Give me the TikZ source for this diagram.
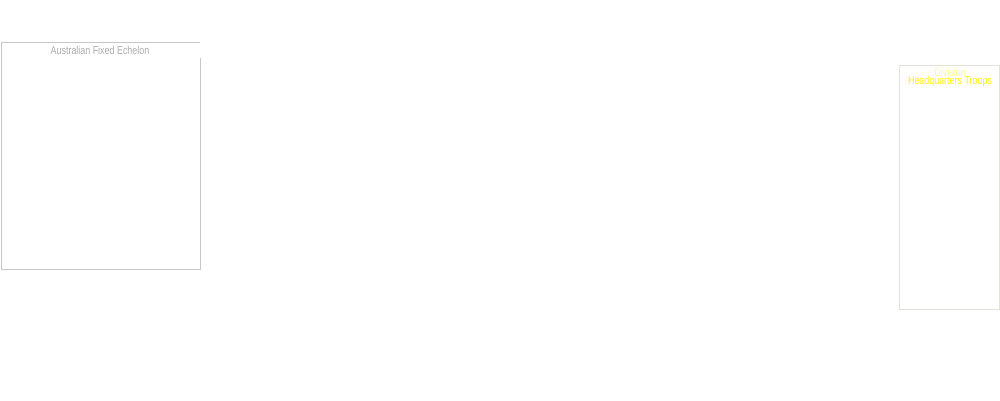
\documentclass[tikz,border=0pt]{standalone}
\usepackage{fontspec}
\setmainfont{Liberation Sans}
\newfontfamily\narrowfont[FakeStretch=0.78]{Liberation Sans}
\begin{document}
\begin{tikzpicture}[x=0.02cm,y=-0.02cm,
  lbl/.style={font=\narrowfont\fontsize{6.5}{7.5}\selectfont,align=center,inner sep=0}]
\useasboundingbox (0,0) rectangle (1000,400);
\fill[white] (0,0) rectangle (1000,400);
\draw[gray!45,line width=0.5pt] (1,42) -- (200,42) (1,42) -- (1,269) -- (200,269) -- (200,58);
\node[lbl,text=gray!65] (afe) at (100,50) {Australian Fixed Echelon};
\draw[yellow!15!gray!30,line width=0.5pt] (899,65) rectangle (999,309);
\node[lbl,text=yellow!40] (div) at (950,72) {Division};
\node[lbl,text=yellow] (hq) at (950,82) {Headquarters Troops};
\end{tikzpicture}
\end{document}
